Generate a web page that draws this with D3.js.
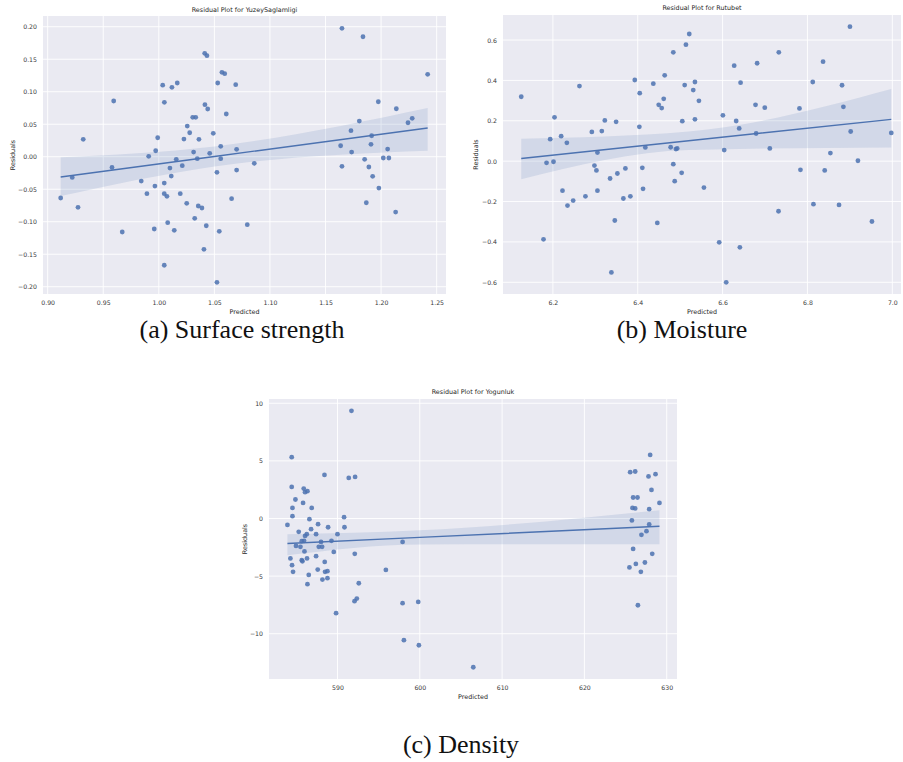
<!DOCTYPE html>
<html>
<head>
<meta charset="utf-8">
<script src="https://cdn.jsdelivr.net/npm/d3@7"></script>
<style>
  body { margin: 0; background: #fff; }
  svg text { font-family: "DejaVu Sans", sans-serif; }
  .tick text { fill: #3a3a3a; font-size: 6.2px; }
  .caption { font-family: "Liberation Serif", serif !important; font-size: 26px; fill: #111; }
</style>
</head>
<body>
<div class="chart"></div>
<script>
// ---- data ----
// (a) Surface strength
var aPred = [0.9117,0.9221,0.9273,0.932,0.9579,0.9594,0.9671,0.9842,0.9893,0.9909,0.9959,0.9965,0.9972,0.999,
  1.0035,1.005,1.0049,1.0049,1.0049,1.0073,1.008,1.010,1.0112,1.0118,1.0139,1.0157,1.0166,1.0193,1.0211,1.0226,
  1.0251,1.0256,1.0278,1.0305,1.0313,1.0323,1.0332,1.0346,1.0355,1.0361,1.0388,1.0406,1.0413,1.0415,1.0427,1.0433,
  1.044,1.0458,1.049,1.0523,1.0523,1.053,1.0544,1.0557,1.0557,1.0568,1.0593,1.0607,1.0655,1.0692,1.070,1.070,
  1.0796,1.0859,1.1636,1.1648,1.1648,1.1729,1.1735,1.1804,1.1837,1.1852,1.1867,1.189,1.1909,1.1915,1.1924,1.1975,
  1.198,1.202,1.2059,1.207,1.2131,1.2137,1.2242,1.228,1.2419];
var aResid = [-0.0635,-0.0318,-0.0779,0.0268,-0.0164,0.0857,-0.1158,-0.0374,-0.0569,0.0006,-0.1112,-0.0451,0.0092,0.0292,
  0.110,0.0837,-0.0405,-0.0569,-0.167,-0.061,-0.1015,-0.0174,-0.0297,0.1068,-0.1133,-0.004,0.1134,-0.0569,-0.0138,0.0272,
  -0.0717,0.0472,0.0369,0.0606,0.0072,-0.0948,0.0606,-0.003,-0.0758,0.0268,-0.0789,-0.1425,0.159,0.080,-0.1062,0.1554,
  0.0734,0.0052,0.036,-0.1933,-0.024,0.1134,-0.1148,0.016,-0.003,0.1298,0.1277,0.0657,-0.0646,0.1108,0.0114,-0.0205,
  -0.1046,-0.0102,0.0169,0.1975,-0.0148,0.040,0.0072,0.0549,0.1846,-0.004,-0.0708,-0.0158,0.019,0.0323,-0.0302,0.0846,
  -0.0482,-0.002,0.0118,-0.002,-0.0851,0.0738,0.0523,0.059,0.1268];
var aFitX = [0.9117, 1.05, 1.2419];
var aFitMid = [-0.0312, 0.0004, 0.0442];
var aFitLo = [-0.0605, -0.015, 0.0092];
var aFitHi = [-0.001, 0.0159, 0.075];
var aXTicks = [0.90, 0.95, 1.00, 1.05, 1.10, 1.15, 1.20, 1.25];
var aYTicks = [-0.20, -0.15, -0.10, -0.05, 0.00, 0.05, 0.10, 0.15, 0.20];

// (b) Moisture
var bPred = [6.1254,6.1936,6.2038,6.2195,6.2329,6.2626,6.2918,6.305,6.3153,6.3224,6.349,6.393,6.4047,6.4038,6.4179,
  6.4367,6.4494,6.4565,6.4612,6.4635,6.4838,6.4776,6.490,6.493,6.505,6.5136,6.5106,6.5214,6.5348,6.5308,6.5442,
  6.5348,6.6007,6.6273,6.6814,6.6424,6.7325,6.6776,6.6995,6.632,6.6391,6.679,6.6038,6.7113,6.7812,6.8125,6.8368,
  6.8815,6.8847,6.9002,6.9019,6.9976,6.8541,6.919,
  6.185,6.2014,6.1779,6.2226,6.2344,6.2478,6.2767,6.2979,6.3026,6.305,6.3348,6.352,6.3459,6.3379,6.3709,6.3661,
  6.3826,6.4108,6.4125,6.4461,6.4838,6.4871,6.5035,6.556,6.592,6.6407,6.6085,6.7318,6.7835,6.8407,6.8141,6.8744,6.952];
var bResid = [0.319,0.109,0.217,0.124,0.091,0.372,0.145,0.043,0.149,0.202,0.195,0.402,0.337,0.170,0.068,
  0.384,0.279,0.263,0.309,0.425,0.539,0.069,0.060,0.063,0.198,0.577,0.377,0.630,0.392,0.352,0.299,
  0.207,0.227,0.473,0.485,0.389,0.539,0.279,0.265,0.199,0.162,0.137,0.055,0.063,0.261,0.392,0.493,
  0.376,0.269,0.666,0.147,0.140,0.040,0.002,
  -0.008,-0.003,-0.387,-0.146,-0.220,-0.195,-0.174,-0.022,-0.046,-0.146,-0.086,-0.061,-0.294,-0.551,-0.036,-0.185,
  -0.174,-0.033,-0.137,-0.306,-0.015,-0.099,-0.058,-0.131,-0.402,-0.427,-0.600,-0.248,-0.043,-0.046,-0.213,-0.217,-0.299];
var bFitX = [6.1254, 6.52, 6.9976];
var bFitMid = [0.013, 0.101, 0.207];
var bFitLo = [-0.089, 0.055, 0.068];
var bFitHi = [0.111, 0.147, 0.357];
var bXTicks = [6.2, 6.4, 6.6, 6.8, 7.0];
var bYTicks = [-0.6, -0.4, -0.2, 0.0, 0.2, 0.4, 0.6];

// (c) Density
var cPred = [591.70,584.44,588.42,591.37,592.14,584.44,585.9,586.06,586.35,584.89,585.82,584.53,586.87,584.53,586.59,
  583.92,587.64,590.8,590.85,588.86,586.79,585.29,586.27,587.4,590.0,586.06,585.66,585.94,588.0,589.27,597.91,
  584.96,585.5,587.73,588.13,584.28,585.99,584.48,584.6,585.66,585.74,586.3,587.4,587.6,586.51,586.35,588.45,
  588.49,588.78,588.17,588.78,589.55,592.1,589.83,592.07,592.35,592.59,595.88,597.91,599.81,598.07,599.89,606.5,
  625.92,628.24,626.25,627.35,625.47,626.86,626.5,627.99,625.56,626.17,627.79,628.64,628.15,625.92,626.45,629.12,
  625.84,626.17,627.87,625.77,627.87,627.54,626.93];
var cResid = [9.34,5.32,3.78,3.52,3.61,2.74,2.60,2.28,2.37,1.65,1.35,0.92,0.92,0.20,-0.06,
  -0.56,-0.49,0.11,-0.76,-0.76,-0.93,-1.16,-1.36,-1.36,-1.36,-1.51,-1.97,-1.94,-2.03,-1.94,-2.03,
  -2.38,-2.46,-2.46,-2.46,-3.47,-2.86,-4.05,-4.63,-3.62,-3.71,-3.47,-3.27,-4.43,-4.90,-5.70,-3.77,
  -4.63,-4.57,-5.30,-5.18,-2.90,-3.07,-8.22,-7.18,-6.95,-5.62,-4.46,-7.35,-7.24,-10.56,-11.0,-12.91,
  -2.64,-3.07,-3.94,-3.82,-4.25,-4.63,-7.53,5.52,4.02,4.08,3.65,3.85,2.48,1.82,1.82,1.35,
  0.92,0.87,0.81,-0.17,-0.52,-1.10,-1.42];
var cFitX = [583.92, 600, 629.12];
var cFitMid = [-2.17, -1.64, -0.67];
var cFitLo = [-3.19, -2.25, -2.23];
var cFitHi = [-1.36, -1.03, 0.72];
var cXTicks = [590, 600, 610, 620, 630];
var cYTicks = [-10, -5, 0, 5, 10];

var svg = d3.select(".chart").append("svg")
  .attr("width", 903)
  .attr("height", 762);

function drawPanel(p) {
  var x = d3.scaleLinear().domain(p.xDomain).range([p.left, p.right]);
  var y = d3.scaleLinear().domain(p.yDomain).range([p.bottom, p.top]);
  var g = svg.append("g");

  g.append("rect")
    .attr("x", p.left).attr("y", p.top)
    .attr("width", p.right - p.left).attr("height", p.bottom - p.top)
    .attr("fill", "#eaeaf2");

  // grid
  g.selectAll(".gx").data(p.xTicks).enter().append("line")
    .attr("x1", d => x(d)).attr("x2", d => x(d))
    .attr("y1", p.top).attr("y2", p.bottom)
    .attr("stroke", "#fff").attr("stroke-width", 0.9);
  g.selectAll(".gy").data(p.yTicks).enter().append("line")
    .attr("y1", d => y(d)).attr("y2", d => y(d))
    .attr("x1", p.left).attr("x2", p.right)
    .attr("stroke", "#fff").attr("stroke-width", 0.9);

  // axes (labels only)
  var xAxis = g.append("g")
    .attr("transform", `translate(0, ${p.bottom})`)
    .call(d3.axisBottom(x).tickValues(p.xTicks).tickFormat(p.xFmt).tickSize(0).tickPadding(7));
  var yAxis = g.append("g")
    .attr("transform", `translate(${p.left}, 0)`)
    .call(d3.axisLeft(y).tickValues(p.yTicks).tickFormat(p.yFmt).tickSize(0).tickPadding(6));
  xAxis.select(".domain").remove();
  yAxis.select(".domain").remove();

  // confidence band + fit line
  var fit = p.fitX.map((d, i) => ({ x: d, lo: p.fitLo[i], mid: p.fitMid[i], hi: p.fitHi[i] }));
  g.append("path")
    .datum(fit)
    .attr("fill", "#4c72b0").attr("fill-opacity", 0.15)
    .attr("d", d3.area().curve(d3.curveMonotoneX)
      .x(d => x(d.x)).y0(d => y(d.lo)).y1(d => y(d.hi)));

  // points
  g.selectAll("circle").data(p.xs).enter().append("circle")
    .attr("cx", d => x(d))
    .attr("cy", (d, i) => y(p.ys[i]))
    .attr("r", 2.4)
    .attr("fill", "#4c72b0")
    .attr("opacity", 0.85);

  g.append("path")
    .datum(fit)
    .attr("fill", "none").attr("stroke", "#4c72b0").attr("stroke-width", 1.4)
    .attr("d", d3.line().x(d => x(d.x)).y(d => y(d.mid)));

  // labels
  g.append("text")
    .attr("x", (p.left + p.right) / 2).attr("y", p.titleY)
    .attr("text-anchor", "middle").attr("font-size", 6.4).attr("fill", "#262626")
    .text(p.title);
  g.append("text")
    .attr("x", (p.left + p.right) / 2).attr("y", p.bottom + 20)
    .attr("text-anchor", "middle").attr("font-size", 6.4).attr("fill", "#262626")
    .text("Predicted");
  g.append("text")
    .attr("transform", `translate(${p.ylabX}, ${(p.top + p.bottom) / 2}) rotate(-90)`)
    .attr("text-anchor", "middle").attr("font-size", 6.4).attr("fill", "#262626")
    .text("Residuals");
  svg.append("text")
    .attr("class", "caption")
    .attr("x", p.capX).attr("y", p.capY)
    .attr("text-anchor", "middle")
    .text(p.caption);
}

var minus = s => s.replace("-", "\u2212");

drawPanel({
  xs: aPred, ys: aResid, fitX: aFitX, fitLo: aFitLo, fitMid: aFitMid, fitHi: aFitHi,
  xTicks: aXTicks, yTicks: aYTicks,
  xFmt: d => d3.format(".2f")(d), yFmt: d => minus(d3.format(".2f")(d)),
  xDomain: [0.8958, 1.2584], yDomain: [-0.2112, 0.2165],
  left: 43, right: 446, top: 16, bottom: 294,
  titleY: 12, ylabX: 15,
  title: "Residual Plot for YuzeySaglamligi",
  caption: "(a) Surface strength", capX: 242, capY: 338
});

drawPanel({
  xs: bPred, ys: bResid, fitX: bFitX, fitLo: bFitLo, fitMid: bFitMid, fitHi: bFitHi,
  xTicks: bXTicks, yTicks: bYTicks,
  xFmt: d => d3.format(".1f")(d), yFmt: d => minus(d3.format(".1f")(d)),
  xDomain: [6.0824, 7.0205], yDomain: [-0.658, 0.724],
  left: 503, right: 901, top: 15, bottom: 294,
  titleY: 10, ylabX: 478,
  title: "Residual Plot for Rutubet",
  caption: "(b) Moisture", capX: 682, capY: 338
});

drawPanel({
  xs: cPred, ys: cResid, fitX: cFitX, fitLo: cFitLo, fitMid: cFitMid, fitHi: cFitHi,
  xTicks: cXTicks, yTicks: cYTicks,
  xFmt: d => d3.format("d")(d), yFmt: d => minus(d3.format("d")(d)),
  xDomain: [581.68, 631.25], yDomain: [-13.93, 10.37],
  left: 269, right: 677, top: 399, bottom: 679,
  titleY: 394, ylabX: 247,
  title: "Residual Plot for Yogunluk",
  caption: "(c) Density", capX: 461, capY: 753
});
</script>
</body>
</html>
